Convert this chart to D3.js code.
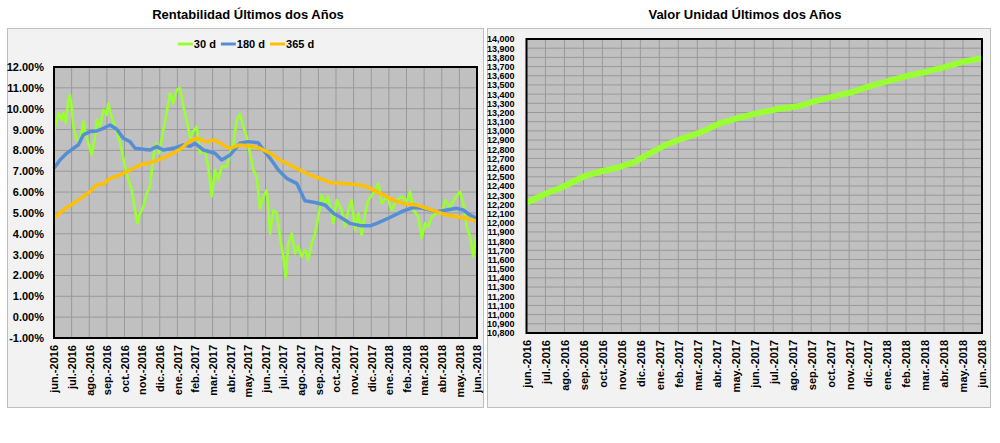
<!DOCTYPE html>
<html>
<head>
<meta charset="utf-8">
<script src="https://cdn.jsdelivr.net/npm/d3@7"></script>
<style>
  body { margin: 0; background: #fff; }
  text { font-family: "Liberation Sans", Arial, sans-serif; }
  .narrow { font-family: "Liberation Sans Narrow", "Arial Narrow", "Liberation Sans", Arial, sans-serif; }
</style>
</head>
<body>
<svg id="chart" width="1000" height="443"></svg>
<script>
// eje x: meses (índice 0..24)
const monthLabels = [
  'jun.-2016', 'jul.-2016', 'ago.-2016', 'sep.-2016', 'oct.-2016', 'nov.-2016', 'dic.-2016',
  'ene.-2017', 'feb.-2017', 'mar.-2017', 'abr.-2017', 'may.-2017', 'jun.-2017', 'jul.-2017',
  'ago.-2017', 'sep.-2017', 'oct.-2017', 'nov.-2017', 'dic.-2017',
  'ene.-2018', 'feb.-2018', 'mar.-2018', 'abr.-2018', 'may.-2018', 'jun.-2018'
]
const pctTicks = d3.range(-1, 13)            // -1.00% .. 12.00%
const unitTicks = d3.range(10800, 14001, 100) // 10,800 .. 14,000

const seriesNames = ['30 d', '180 d', '365 d']
const seriesColors = ['#99ff33', '#558ed5', '#ffc000']

// rentabilidad 30 d (mes, %)
const r30Month = [0, 0.06, 0.24, 0.44, 0.53, 0.68, 0.81, 0.91, 1.00, 1.10, 1.29, 1.48, 1.66, 1.76, 1.95,
  2.14, 2.33, 2.42, 2.61, 2.80, 2.99, 3.08, 3.27, 3.46, 3.65, 3.84, 4.03, 4.22, 4.41, 4.60, 4.73, 4.88,
  5.07, 5.26, 5.45, 5.63, 5.79, 5.97, 6.20, 6.39, 6.58, 6.77, 6.96, 7.15, 7.34, 7.53, 7.72, 7.90, 8.10,
  8.28, 8.57, 8.75, 8.95, 9.13, 9.32, 9.51, 9.80, 9.99, 10.17, 10.37, 10.55, 10.74, 10.93, 11.12, 11.31,
  11.50, 11.69, 11.88, 12.07, 12.26, 12.44, 12.64, 12.82, 13.01, 13.15, 13.29, 13.49, 13.67, 13.86, 14.05,
  14.24, 14.43, 14.62, 14.81, 15.00, 15.19, 15.38, 15.56, 15.76, 15.85, 16.04, 16.32, 16.51, 16.70, 16.89,
  17.08, 17.27, 17.46, 17.65, 17.83, 18.12, 18.40, 18.59, 18.88, 19.16, 19.44, 19.73, 20.01, 20.20, 20.39,
  20.67, 20.86, 21.05, 21.24, 21.43, 21.71, 22.00, 22.18, 22.47, 22.75, 23.04, 23.22, 23.42, 23.60, 23.79,
  23.94, 24.00]
const r30Value = [8.74, 9.14, 9.78, 9.46, 9.78, 9.30, 10.42, 10.66, 10.10, 9.14, 8.50, 8.42, 9.38, 8.98, 8.34,
  7.78, 8.66, 9.46, 9.14, 9.94, 9.70, 10.26, 9.62, 9.14, 8.66, 8.02, 7.22, 6.58, 6.10, 5.14, 4.50, 4.98,
  5.30, 5.94, 6.26, 7.70, 8.34, 7.86, 8.98, 9.78, 10.74, 10.26, 10.90, 10.98, 10.10, 9.46, 8.60, 8.90, 9.14,
  7.86, 8.02, 7.22, 5.78, 7.06, 6.58, 7.22, 7.22, 7.86, 8.26, 9.46, 9.74, 9.14, 8.66, 7.86, 7.06,
  6.74, 5.20, 5.78, 6.10, 4.00, 5.14, 4.98, 3.86, 2.90, 1.90, 3.54, 4.02, 3.06, 3.40, 2.90,
  3.22, 2.74, 3.54, 4.02, 4.82, 5.86, 5.46, 5.78, 4.98, 4.50, 5.62, 5.14, 4.34, 5.14, 5.62,
  4.18, 4.98, 3.94, 4.98, 5.62, 5.94, 6.42, 5.46, 5.78, 5.14, 5.62, 5.78, 5.54, 6.02, 5.14,
  4.82, 3.80, 4.50, 4.34, 4.82, 4.98, 4.98, 5.62, 5.30, 5.70, 6.02, 5.46, 4.34, 3.86, 2.90,
  3.86, 3.70]

// rentabilidad 180 d
const r180Month = [0, 0.34, 0.72, 1.10, 1.38, 1.66, 2.04, 2.42, 2.80, 3.18, 3.56, 3.93, 4.31, 4.60, 5.07,
  5.45, 5.83, 6.20, 6.77, 7.34, 7.72, 8.00, 8.47, 9.13, 9.51, 9.99, 10.55, 11.02, 11.59, 11.88, 12.26,
  12.73, 13.20, 13.77, 14.24, 14.81, 15.38, 15.85, 16.23, 16.79, 17.46, 17.93, 18.31, 19.06, 19.82, 20.39,
  20.95, 21.71, 22.28, 22.85, 23.22, 23.60, 24.00]
const r180Value = [7.14, 7.54, 7.86, 8.10, 8.26, 8.74, 8.90, 8.93, 9.06, 9.22, 9.01, 8.58, 8.42, 8.10, 8.05,
  8.02, 8.18, 8.02, 8.10, 8.26, 8.20, 8.34, 8.02, 7.86, 7.54, 7.78, 8.34, 8.42, 8.37, 8.02, 7.62,
  7.06, 6.66, 6.42, 5.58, 5.50, 5.38, 4.98, 4.80, 4.50, 4.38, 4.38, 4.50, 4.78, 5.10, 5.26,
  5.22, 5.06, 5.14, 5.22, 5.14, 4.90, 4.74]

// rentabilidad 365 d
const r365Month = [0, 0.53, 1.10, 1.66, 2.04, 2.42, 2.80, 3.18, 3.74, 4.31, 4.88, 5.45, 6.01, 6.58, 7.15,
  7.72, 8.10, 8.66, 9.13, 9.61, 9.99, 10.55, 11.12, 11.69, 12.26, 12.82, 13.39, 13.96, 14.52, 15.09, 15.66,
  16.23, 16.79, 17.36, 17.74, 18.31, 18.88, 19.44, 20.01, 20.58, 21.15, 21.71, 22.28, 22.85, 23.42, 24.00]
const r365Value = [4.74, 5.14, 5.46, 5.78, 6.02, 6.34, 6.39, 6.66, 6.82, 7.06, 7.30, 7.41, 7.57, 7.78, 8.05,
  8.45, 8.58, 8.42, 8.50, 8.26, 8.10, 8.26, 8.21, 8.10, 7.86, 7.54, 7.30, 7.06, 6.82, 6.66, 6.45,
  6.42, 6.39, 6.34, 6.26, 6.02, 5.78, 5.54, 5.43, 5.38, 5.22, 5.06, 4.90, 4.82, 4.74, 4.60]

// valor unidad
const unitMonth = [0, 0.97, 1.94, 2.99, 3.87, 4.66, 5.63, 6.33, 7.21, 8.09, 9.14, 10.20, 11.07, 12.13, 13.18,
  14.41, 15.11, 16.16, 17.22, 18.09, 19.15, 20.03, 21.09, 22.14, 23.02, 23.98]
const unitValue = [12218, 12313, 12392, 12501, 12556, 12593, 12654, 12737, 12835, 12908, 12980, 13082, 13137,
  13191, 13235, 13271, 13318, 13372, 13426, 13488, 13546, 13597, 13644, 13699, 13753, 13790]

const svg = d3.select('#chart')

function panel (o) {
  const g = svg.append('g')
  g.append('rect')
    .attr('x', o.box[0] + 0.5).attr('y', o.box[1] + 0.5)
    .attr('width', o.box[2]).attr('height', o.box[3])
    .attr('fill', '#f2f2f2').attr('stroke', '#bfbfbf')

  g.append('text')
    .attr('x', o.titleX).attr('y', 19)
    .attr('text-anchor', 'middle')
    .style('font-size', '13px').style('font-weight', 'bold')
    .text(o.title)

  const x = d3.scaleLinear().domain([0, 24]).range([o.left, o.right])
  const y = d3.scaleLinear().domain(o.yDomain).range([o.bottom, o.top])

  g.append('rect')
    .attr('x', o.left).attr('y', o.top)
    .attr('width', o.right - o.left).attr('height', o.bottom - o.top)
    .attr('fill', '#c0c0c0')

  // rejilla
  g.append('g').selectAll('line')
    .data(d3.range(1, 24))
    .join('line')
    .attr('x1', d => x(d)).attr('x2', d => x(d))
    .attr('y1', o.top).attr('y2', o.bottom)
    .attr('stroke', '#999').attr('stroke-width', 1)
  g.append('g').selectAll('line')
    .data(o.yTicks.slice(1, -1))
    .join('line')
    .attr('x1', o.left).attr('x2', o.right)
    .attr('y1', d => y(d)).attr('y2', d => y(d))
    .attr('stroke', '#999').attr('stroke-width', 1)

  const line = d3.line().x(d => x(d[0])).y(d => y(d[1]))
  o.series.forEach(s => {
    g.append('path')
      .datum(d3.zip(s.month, s.value))
      .attr('d', line)
      .attr('fill', 'none')
      .attr('stroke', s.color)
      .attr('stroke-width', s.width)
      .attr('stroke-linejoin', 'round')
  })

  g.append('rect')
    .attr('x', o.left).attr('y', o.top)
    .attr('width', o.right - o.left).attr('height', o.bottom - o.top)
    .attr('fill', 'none').attr('stroke', '#000').attr('stroke-width', 2)

  const xAxis = g.append('g')
    .attr('transform', `translate(0,${o.bottom})`)
    .call(d3.axisBottom(x).tickValues(d3.range(25)).tickFormat(i => monthLabels[i]).tickSize(0))
  xAxis.select('.domain').remove()
  xAxis.selectAll('text')
    .attr('transform', 'rotate(-90)')
    .attr('x', -7).attr('y', 0).attr('dy', '0.35em')
    .attr('text-anchor', 'end')
    .style('font-size', '11px').style('font-weight', 'bold').style('font-family', '"Liberation Sans", Arial, sans-serif')
    .attr('fill', '#000')

  const yAxis = g.append('g')
    .attr('transform', `translate(${o.left},0)`)
    .call(d3.axisLeft(y).tickValues(o.yTicks).tickFormat(o.yFormat).tickSize(0).tickPadding(o.yPad))
  yAxis.select('.domain').remove()
  yAxis.selectAll('text')
    .attr('class', 'narrow')
    .style('font-size', o.yFont).style('font-weight', 'bold')
    .style('font-family', '"Liberation Sans Narrow", "Arial Narrow", "Liberation Sans", Arial, sans-serif')
    .attr('fill', '#000')
  return g
}

panel({
  box: [7, 28, 476, 379],
  title: 'Rentabilidad Últimos dos Años',
  titleX: 248,
  left: 54, right: 477, top: 67, bottom: 338,
  yDomain: [-1, 12],
  yTicks: pctTicks,
  yFormat: d => d.toFixed(2) + '%',
  yFont: '11px',
  yPad: 10,
  series: [
    { month: r30Month, value: r30Value, color: seriesColors[0], width: 2.6 },
    { month: r180Month, value: r180Value, color: seriesColors[1], width: 3.5 },
    { month: r365Month, value: r365Value, color: seriesColors[2], width: 3.5 }
  ]
})

panel({
  box: [487, 28, 503, 379],
  title: 'Valor Unidad Últimos dos Años',
  titleX: 745,
  left: 526.5, right: 982, top: 39, bottom: 333,
  yDomain: [10800, 14000],
  yTicks: unitTicks,
  yFormat: d3.format(','),
  yFont: '9px',
  yPad: 12,
  series: [
    { month: unitMonth, value: unitValue, color: seriesColors[0], width: 6 }
  ]
})

// leyenda
const legend = svg.append('g')
let lx = 0
seriesNames.forEach((name, i) => {
  const item = legend.append('g').attr('transform', `translate(${lx},0)`)
  item.append('line')
    .attr('x1', 0).attr('x2', 15).attr('y1', 0).attr('y2', 0)
    .attr('stroke', seriesColors[i]).attr('stroke-width', 3)
  const t = item.append('text')
    .attr('x', 16).attr('y', 0).attr('dy', '0.35em')
    .style('font-size', '11px').style('font-weight', 'bold')
    .style('font-family', '"Liberation Sans Narrow", "Arial Narrow", "Liberation Sans", Arial, sans-serif')
    .text(name)
  lx += 16 + t.node().getComputedTextLength() + 5
})
legend.attr('transform', `translate(${246 - (lx - 5) / 2},44)`)
</script>
</body>
</html>
